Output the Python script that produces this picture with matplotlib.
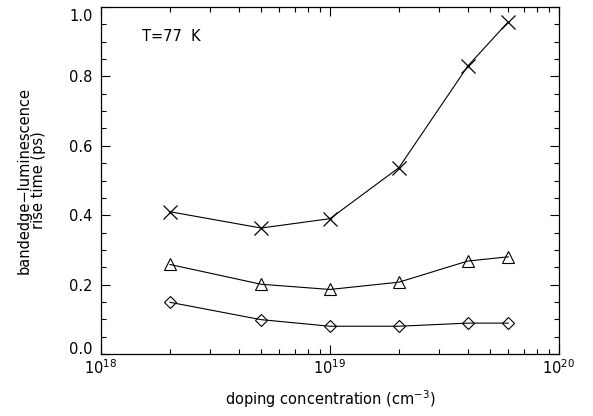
import numpy as np
import matplotlib
matplotlib.use('Agg')
import matplotlib.pyplot as plt
from matplotlib.ticker import LogLocator, MultipleLocator, FixedLocator
from matplotlib.transforms import ScaledTranslation

# doping concentration (cm^-3)
doping = [2e18, 5e18, 1e19, 2e19, 4e19, 6e19]

# rise time (ps) for the three series
rise_cross = [0.41, 0.363, 0.39, 0.537, 0.83, 0.957]
rise_triangle = [0.258, 0.201, 0.186, 0.207, 0.268, 0.28]
rise_diamond = [0.149, 0.099, 0.08, 0.08, 0.089, 0.089]

plt.rcParams['font.family'] = ['DejaVu Sans']
plt.rcParams['font.size'] = 10.5

fig = plt.figure(figsize=(5.93, 4.16), dpi=100)
ax = fig.add_axes([101 / 593, 62 / 416, 458 / 593, 347 / 416])

ax.plot(doping, rise_cross, color='black', lw=0.8, marker='x', ms=10,
        mew=0.9)
ax.plot(doping, rise_triangle, color='black', lw=0.8, marker='^', ms=9,
        mfc='none', mew=0.8)
ax.plot(doping, rise_diamond, color='black', lw=0.8, marker='D', ms=5.8,
        mfc='none', mew=0.8)

ax.set_xscale('log')
ax.set_xlim(1e18, 1e20)
ax.set_ylim(0.0, 1.0)

ax.xaxis.set_major_locator(FixedLocator([1e18, 1e19, 1e20]))
ax.xaxis.set_minor_locator(LogLocator(base=10, subs=np.arange(2, 10)))
ax.yaxis.set_major_locator(FixedLocator([0.0, 0.2, 0.4, 0.6, 0.8, 1.0]))
ax.yaxis.set_minor_locator(MultipleLocator(0.05))
ax.yaxis.set_major_formatter(plt.FormatStrFormatter('%.1f'))

ax.tick_params(which='both', direction='in', top=True, right=True,
               width=0.8, colors='black')
ax.tick_params(which='major', length=6.5)
ax.tick_params(which='minor', length=3.6)
ax.tick_params(axis='y', pad=6)
ax.tick_params(axis='x', pad=3)

for sp in ax.spines.values():
    sp.set_linewidth(0.9)

ax.set_xlabel('doping concentration (cm$^{-3}$)', labelpad=8)
ax.set_ylabel('bandedge\u2212luminescence\nrise time (ps)', labelpad=17,
              linespacing=0.95)

ax.text(0.09, 0.914, 'T=77  K', transform=ax.transAxes, ha='left',
        va='center')

# nudge the end labels of the y axis like the original
fig.canvas.draw()
for tick in ax.yaxis.get_major_ticks():
    loc = tick.get_loc()
    if abs(loc - 1.0) < 1e-9:
        dy = -6
    elif abs(loc) < 1e-9:
        dy = 4
    else:
        continue
    tick.label1.set_transform(tick.label1.get_transform() +
                              ScaledTranslation(0, dy / 72, fig.dpi_scale_trans))

fig.savefig('out.png', dpi=100)
